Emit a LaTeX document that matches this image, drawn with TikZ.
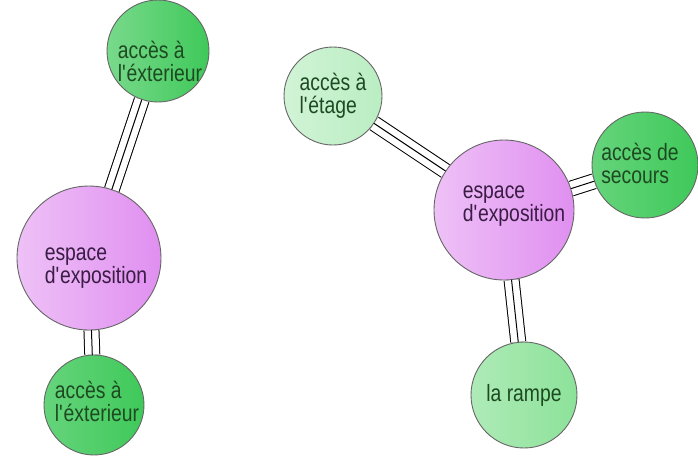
\documentclass[tikz,border=0pt]{standalone}
\usepackage{fontspec}
\setmainfont{Liberation Sans}
\newfontfamily\bullefont[FakeStretch=0.82]{Liberation Sans}

\definecolor{vertfonce}{HTML}{3FC95A}
\definecolor{vertclair}{HTML}{8CE299}
\definecolor{violet}{HTML}{E08FF0}
\definecolor{txtvert}{HTML}{1E4A22}
\definecolor{txtviolet}{HTML}{3A1C44}

\begin{document}
\begin{tikzpicture}[line cap=round,line join=round,x=0.5pt,y=-0.5pt,
  bulle/.style={circle,draw=black!60,line width=0.45pt,inner sep=0pt,shading angle=0},
  txt/.style={align=left,inner sep=0pt,font=\bullefont\fontsize{11.8}{11.5}\selectfont},
  triple/.style={line cap=butt,double=white,double distance=7pt,line width=0.5pt}]

\useasboundingbox (0,0) rectangle (698,457);

% espaces d'exposition
\node[bulle,minimum size=72pt,left color=violet!55!white,right color=violet] (expoG) at (89,258) {};
\node[bulle,minimum size=70pt,left color=violet!55!white,right color=violet] (expoD) at (504,210) {};

% acces
\node[bulle,minimum size=51pt,left color=vertfonce!70!white,right color=vertfonce] (extH) at (158,51) {};
\node[bulle,minimum size=50pt,left color=vertfonce!80!white,right color=vertfonce] (extB) at (94,405) {};
\node[bulle,minimum size=49pt,left color=vertclair!40!white,right color=vertclair!60!white] (etage) at (333,96) {};
\node[bulle,minimum size=53pt,left color=vertfonce!80!white,right color=vertfonce] (secours) at (645,165) {};
\node[bulle,minimum size=53pt,left color=vertclair!70!white,right color=vertclair] (rampe) at (524,395) {};

% textes
\node[txt,text=txtviolet] at ([shift={(7,10)}]expoG) {espace\\d\textquotesingle exposition};
\node[txt,text=txtviolet] at ([shift={(10,-4)}]expoD) {espace\\d\textquotesingle exposition};
\node[txt,text=txtvert] at ([shift={(2,10)}]extH) {accès à\\l\textquotesingle éxterieur};
\node[txt,text=txtvert] at ([shift={(3,-4)}]extB) {accès à\\l\textquotesingle éxterieur};
\node[txt,text=txtvert] at (etage) {accès à\\l\textquotesingle étage};
\node[txt,text=txtvert] at ([shift={(-5,-2)}]secours) {accès de\\secours};
\node[txt,text=txtvert] at (rampe) {la rampe};

% liaisons
\foreach \a/\b in {extH/expoG,expoG/extB,etage/expoD,secours/expoD,expoD/rampe}{
  \draw[triple] (\a) -- (\b);
  \draw[line width=0.5pt] (\a) -- (\b);
}

\end{tikzpicture}
\end{document}
